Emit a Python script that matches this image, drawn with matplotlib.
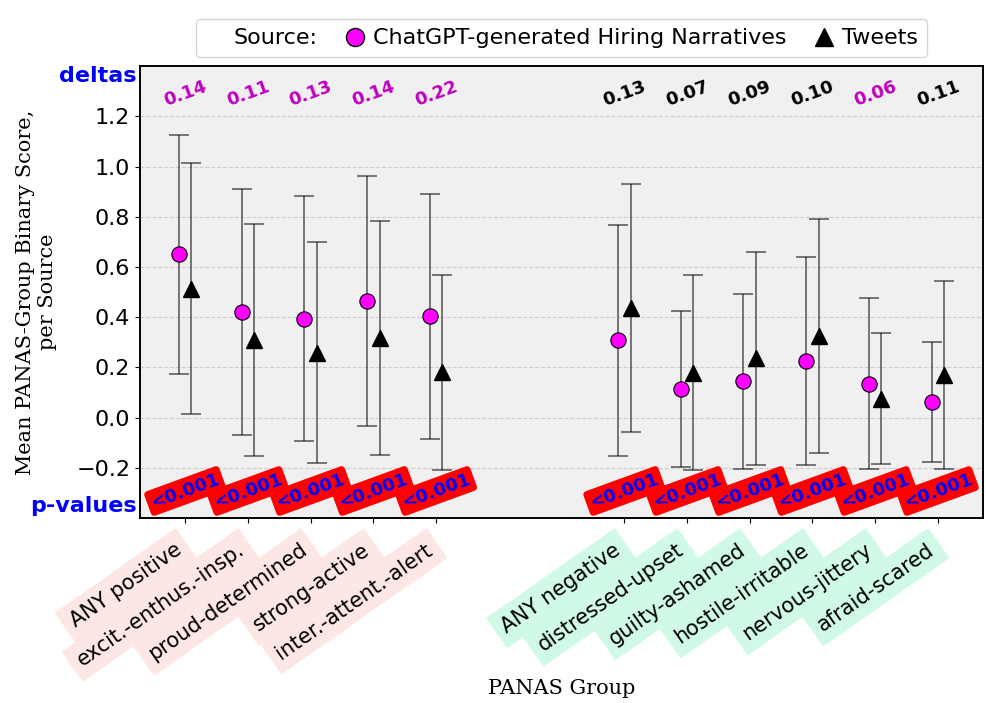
import numpy as np
import matplotlib.pyplot as plt
from matplotlib.lines import Line2D

# PANAS groups (positive block, then negative block)
groups = ['ANY positive', 'excit.-enthus.-insp.', 'proud-determined', 'strong-active',
          'inter.-attent.-alert',
          'ANY negative', 'distressed-upset', 'guilty-ashamed', 'hostile-irritable',
          'nervous-jittery', 'afraid-scared']
positions = [0, 1, 2, 3, 4, 7, 8, 9, 10, 11, 12]
is_positive = [True] * 5 + [False] * 6

# ChatGPT-generated hiring narratives: mean and error
gpt_mean = [0.65, 0.42, 0.394, 0.464, 0.403, 0.309, 0.113, 0.144, 0.224, 0.136, 0.063]
gpt_err = [0.476, 0.49, 0.487, 0.497, 0.489, 0.46, 0.31, 0.347, 0.414, 0.34, 0.238]

# Tweets: mean and error
tw_mean = [0.514, 0.31, 0.259, 0.318, 0.18, 0.437, 0.179, 0.236, 0.325, 0.076, 0.17]
tw_err = [0.50, 0.463, 0.44, 0.466, 0.389, 0.495, 0.388, 0.425, 0.467, 0.262, 0.373]

deltas = ['0.14', '0.11', '0.13', '0.14', '0.22', '0.13', '0.07', '0.09', '0.10', '0.06', '0.11']
pvalues = ['<0.001'] * 11

fig, ax = plt.subplots(figsize=(9.86, 7.03), dpi=100)
fig.subplots_adjust(left=0.142, right=0.997, top=0.906, bottom=0.263)

ax.set_facecolor('#f0f0f0')
ax.grid(axis='y', color='#cccccc', linestyle='--', linewidth=0.8)
ax.set_axisbelow(True)
for sp in ax.spines.values():
    sp.set_linewidth(1.4)

x = np.array(positions)
ax.errorbar(x - 0.1, gpt_mean, yerr=gpt_err, fmt='none', ecolor='black', alpha=0.65,
            elinewidth=1.1, capsize=7.5, capthick=1.1, zorder=2)
ax.errorbar(x + 0.1, tw_mean, yerr=tw_err, fmt='none', ecolor='black', alpha=0.65,
            elinewidth=1.1, capsize=7.5, capthick=1.1, zorder=2)
ax.plot(x - 0.1, gpt_mean, 'o', color='magenta', markeredgecolor='black',
        markeredgewidth=0.8, markersize=11, zorder=3)
ax.plot(x + 0.1, tw_mean, '^', color='black', markersize=11, zorder=3)

ax.set_xlim(-0.72, 12.72)
ax.set_ylim(-0.4, 1.4)
ax.set_yticks([-0.2, 0.0, 0.2, 0.4, 0.6, 0.8, 1.0, 1.2])
ax.tick_params(axis='y', labelsize=16)

# deltas across the top
for xi, d, gm, tm in zip(positions, deltas, gpt_mean, tw_mean):
    col = 'm' if gm > tm else 'black'
    ax.text(xi, 1.29, d, color=col, fontsize=13, fontweight='bold', rotation=20,
            ha='center', va='center')

# p-values along the bottom
for xi, p in zip(positions, pvalues):
    ax.text(xi, -0.292, p, color='blue', fontsize=13, fontweight='bold', rotation=20,
            ha='center', va='center',
            bbox=dict(boxstyle='round,pad=0.18', facecolor='red', edgecolor='red'))

ax.text(-0.77, 1.36, 'deltas', color='blue', fontsize=16, fontweight='bold',
        ha='right', va='center')
ax.text(-0.77, -0.352, 'p-values', color='blue', fontsize=16, fontweight='bold',
        ha='right', va='center')

ax.set_xticks(positions)
ax.set_xticklabels(groups, rotation=35, ha='right', fontsize=15)
for lbl, pos in zip(ax.get_xticklabels(), is_positive):
    lbl.set_bbox(dict(facecolor='#fde3e0' if pos else '#c8fae2', edgecolor='none',
                      alpha=0.85, pad=6))
ax.tick_params(axis='x', pad=12)

ax.set_xlabel('PANAS Group', family='DejaVu Serif', fontsize=15)
ax.set_ylabel('Mean PANAS-Group Binary Score,\nper Source', family='DejaVu Serif',
              fontsize=15, labelpad=14)
ax.xaxis.set_label_coords(0.5, -0.355)

handles = [Line2D([], [], linestyle='none', marker=None),
           Line2D([], [], linestyle='none', marker='o', color='magenta',
                  markeredgecolor='black', markersize=13),
           Line2D([], [], linestyle='none', marker='^', color='black', markersize=13)]
ax.legend(handles, ['Source:', 'ChatGPT-generated Hiring Narratives', 'Tweets'],
          ncol=3, loc='lower center', bbox_to_anchor=(0.5, 1.0), fontsize=16,
          handletextpad=0.3, columnspacing=1.2, handlelength=1.0,
          borderaxespad=0.4)

fig.savefig('out.png')
